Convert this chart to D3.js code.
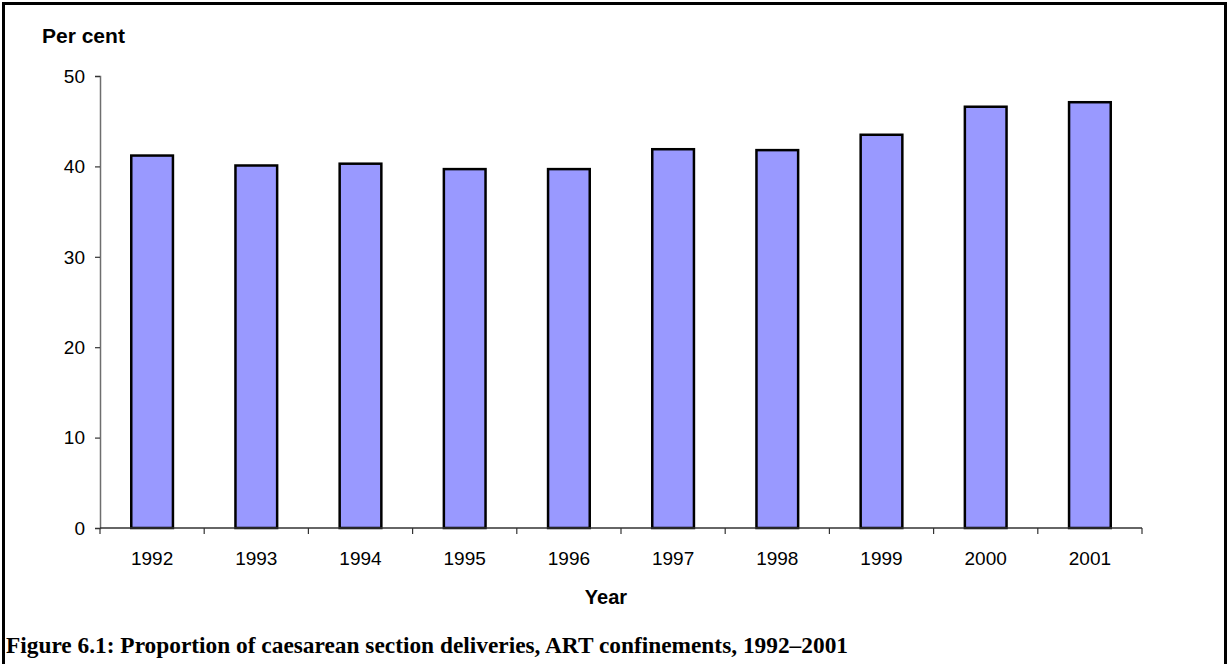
<!DOCTYPE html>
<html>
<head>
<meta charset="utf-8">
<script src="https://cdn.jsdelivr.net/npm/d3@7"></script>
<style>
  html, body { margin: 0; padding: 0; background: #fff; }
  svg { display: block; }
</style>
</head>
<body>
<svg id="chart" width="1229" height="664"></svg>
<script>
const categories = ["1992","1993","1994","1995","1996","1997","1998","1999","2000","2001"];
const values = [41.2, 40.1, 40.3, 39.7, 39.7, 41.9, 41.8, 43.5, 46.6, 47.1];
const yTicks = [0, 10, 20, 30, 40, 50];
const yTitle = "Per cent";
const xTitle = "Year";
const caption = "Figure 6.1: Proportion of caesarean section deliveries, ART confinements, 1992\u20132001";

(function () {
const svg = d3.select("#chart");

// frame
svg.append("rect")
  .attr("x", 3.5).attr("y", 3.5)
  .attr("width", 1222).attr("height", 720)
  .attr("fill", "#fff").attr("stroke", "#000").attr("stroke-width", 3);

const pLeft = 100, pRight = 1142, pTop = 76, pBottom = 528;

const x = d3.scaleBand().domain(categories).range([pLeft, pRight])
  .paddingInner(0.6).paddingOuter(0.3);
const y = d3.scaleLinear().domain([0, 50]).range([pBottom, pTop]);

// bars
svg.append("g").selectAll("rect").data(values).join("rect")
  .attr("x", (d, i) => x(categories[i]))
  .attr("y", d => y(d))
  .attr("width", x.bandwidth())
  .attr("height", d => y(0) - y(d))
  .attr("fill", "#9999FF")
  .attr("stroke", "#000")
  .attr("stroke-width", 2.5);

// y axis
const yAxis = d3.axisLeft(y).tickValues(yTicks).tickSize(5).tickPadding(10).tickFormat(d3.format("d"));
const gy = svg.append("g").attr("transform", `translate(${pLeft},0)`).call(yAxis);
gy.select(".domain").attr("stroke", "#6e6e6e").attr("stroke-width", 1.5);
gy.selectAll(".tick line").attr("stroke", "#333").attr("stroke-width", 1.2);
gy.selectAll(".tick text")
  .attr("font-family", "Liberation Sans, Arial, sans-serif")
  .attr("font-size", 19).attr("fill", "#000").attr("dy", "0.33em");

// x axis (line + ticks at band boundaries)
const boundaries = d3.range(categories.length + 1).map(i => pLeft + i * x.step());
const gx = svg.append("g");
gx.append("line").attr("x1", pLeft).attr("x2", pRight).attr("y1", pBottom).attr("y2", pBottom)
  .attr("stroke", "#333").attr("stroke-width", 1.5);
gx.selectAll("line.tk").data(boundaries).join("line").attr("class", "tk")
  .attr("x1", d => d).attr("x2", d => d).attr("y1", pBottom).attr("y2", pBottom + 6)
  .attr("stroke", "#333").attr("stroke-width", 1.2);
gx.selectAll("text").data(categories).join("text")
  .attr("x", d => x(d) + x.bandwidth() / 2)
  .attr("y", 565)
  .attr("text-anchor", "middle")
  .attr("font-family", "Liberation Sans, Arial, sans-serif")
  .attr("font-size", 19)
  .text(d => d);

// titles
svg.append("text").attr("x", 42).attr("y", 43)
  .attr("font-family", "Liberation Sans, Arial, sans-serif")
  .attr("font-weight", "bold").attr("font-size", 21).text(yTitle);
svg.append("text").attr("x", (pLeft + pRight) / 2 - 15).attr("y", 604)
  .attr("text-anchor", "middle")
  .attr("font-family", "Liberation Sans, Arial, sans-serif")
  .attr("font-weight", "bold").attr("font-size", 20).text(xTitle);

// caption
svg.append("text").attr("x", 6).attr("y", 653)
  .attr("font-family", "Liberation Serif, 'DejaVu Serif', serif")
  .attr("font-weight", "bold").attr("font-size", 24)
  .attr("textLength", 842).attr("lengthAdjust", "spacingAndGlyphs")
  .text(caption);
})();
</script>
</body>
</html>
